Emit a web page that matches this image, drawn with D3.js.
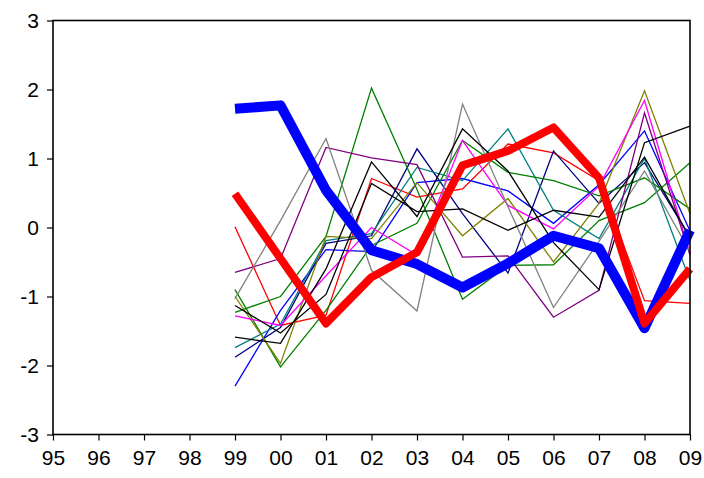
<!DOCTYPE html>
<html>
<head>
<meta charset="utf-8">
<script src="https://cdn.jsdelivr.net/npm/d3@7"></script>
<style>
  html, body { margin: 0; padding: 0; background: #fff; }
  svg { display: block; }
  text { font-family: Arial, "Liberation Sans", sans-serif; }
</style>
</head>
<body>
<svg id="chart" width="704" height="478"></svg>
<script>
// Year labels on the horizontal axis
const years = ["95","96","97","98","99","00","01","02","03","04","05","06","07","08","09"];
const yTicks = [-3, -2, -1, 0, 1, 2, 3];
// Every series begins in 99; earlier years are empty
const firstYear = "99";

// Thin series (values for 99 .. 09)
const thinRed    = [0.01, -1.42, -1.27, 0.71, 0.44, 0.56, 1.21, 1.08, 0.68, -1.06, -1.10];
const thinBlue   = [-2.30, -1.20, -0.32, -0.35, 0.65, 0.71, 0.53, 0.06, 0.62, 1.40, -0.05];
const navy       = [-1.88, -1.45, -0.23, -0.12, 1.14, 0.20, -0.66, 1.11, 0.35, 0.94, -0.14];
const teal       = [-1.74, -1.40, -0.19, -0.09, 0.87, 0.68, 1.43, 0.25, -0.16, 1.00, -0.77];
const greenA     = [-1.23, -1.00, -0.13, 2.02, 0.55, -1.04, -0.55, -0.54, 0.10, 0.36, 0.94];
const greenB     = [-0.90, -2.02, -1.20, -0.26, 0.06, 1.26, 0.80, 0.68, 0.46, 0.72, 0.27];
const olive      = [-1.00, -1.97, -0.13, -0.16, 0.65, -0.12, 0.42, -0.50, 0.35, 1.98, 0.20];
const magenta    = [-1.28, -1.42, -0.70, 0.00, -0.40, 1.26, 0.32, -0.02, 0.60, 1.84, -0.38];
const purple     = [-0.65, -0.45, 1.16, 1.01, 0.91, -0.43, -0.41, -1.30, -0.91, 1.66, -0.40];
const gray       = [-1.03, 0.10, 1.29, -0.62, -1.21, 1.79, 0.30, -1.16, -0.20, 0.82, -0.35];
const blackA     = [-1.13, -1.53, -0.97, 0.64, 0.23, 0.27, -0.04, 0.25, 0.15, 1.02, -0.15];
const blackB     = [-1.59, -1.68, -0.60, 0.95, 0.16, 1.43, 0.82, -0.22, -0.90, 1.23, 1.47];

// Thick highlighted series
const thickBlue  = [1.72, 1.77, 0.54, -0.33, -0.53, -0.87, -0.52, -0.12, -0.30, -1.46, -0.04];
const thickRed   = [0.49, -0.45, -1.39, -0.72, -0.36, 0.90, 1.11, 1.45, 0.72, -1.39, -0.60];

const series = [
  { values: thinRed,   color: "#ff0000", width: 1.3 },
  { values: thinBlue,  color: "#0000ff", width: 1.3 },
  { values: navy,      color: "#000080", width: 1.3 },
  { values: teal,      color: "#008080", width: 1.3 },
  { values: greenA,    color: "#008000", width: 1.3 },
  { values: greenB,    color: "#008000", width: 1.3 },
  { values: olive,     color: "#808000", width: 1.3 },
  { values: magenta,   color: "#ff00ff", width: 1.3 },
  { values: purple,    color: "#800080", width: 1.3 },
  { values: gray,      color: "#808080", width: 1.3 },
  { values: blackA,    color: "#000000", width: 1.3 },
  { values: blackB,    color: "#000000", width: 1.3 },
  { values: thickBlue, color: "#0000ff", width: 10 },
  { values: thickRed,  color: "#ff0000", width: 8 }
];

const svg = d3.select("#chart");
const plotLeft = 53, plotRight = 690, plotTop = 20.5, plotBottom = 434.5;

const x = d3.scalePoint().domain(years).range([plotLeft, plotRight]);
const y = d3.scaleLinear().domain([-3, 3]).range([plotBottom, plotTop]);

const startIdx = years.indexOf(firstYear);
const line = d3.line()
  .x((d, i) => x(years[startIdx + i]))
  .y(d => y(d));

// Series lines
svg.append("g")
  .selectAll("path")
  .data(series)
  .join("path")
  .attr("d", d => line(d.values))
  .attr("fill", "none")
  .attr("stroke", d => d.color)
  .attr("stroke-width", d => d.width)
  .attr("stroke-linejoin", d => d.width > 2 ? "round" : "miter")
  .attr("stroke-linecap", "butt");

// Plot frame
svg.append("rect")
  .attr("x", plotLeft)
  .attr("y", plotTop)
  .attr("width", plotRight - plotLeft)
  .attr("height", plotBottom - plotTop)
  .attr("fill", "none")
  .attr("stroke", "#000")
  .attr("stroke-width", 1.6);

// Left axis (plain hyphen for negatives)
const yAxis = svg.append("g")
  .attr("transform", `translate(${plotLeft},0)`)
  .call(d3.axisLeft(y).tickValues(yTicks).tickSize(6).tickPadding(8).tickFormat(d => String(d)));
yAxis.select(".domain").remove();
yAxis.selectAll("line").attr("stroke", "#000").attr("stroke-width", 1.2);
yAxis.selectAll("text").attr("font-size", 21).attr("fill", "#000")
  .attr("font-family", "Arial, 'Liberation Sans', sans-serif");

// Bottom axis
const xAxis = svg.append("g")
  .attr("transform", `translate(0,${plotBottom})`)
  .call(d3.axisBottom(x).tickSize(6).tickPadding(10));
xAxis.select(".domain").remove();
xAxis.selectAll("line").attr("stroke", "#000").attr("stroke-width", 1.2);
xAxis.selectAll("text").attr("font-size", 21).attr("fill", "#000")
  .attr("font-family", "Arial, 'Liberation Sans', sans-serif");
</script>
</body>
</html>
